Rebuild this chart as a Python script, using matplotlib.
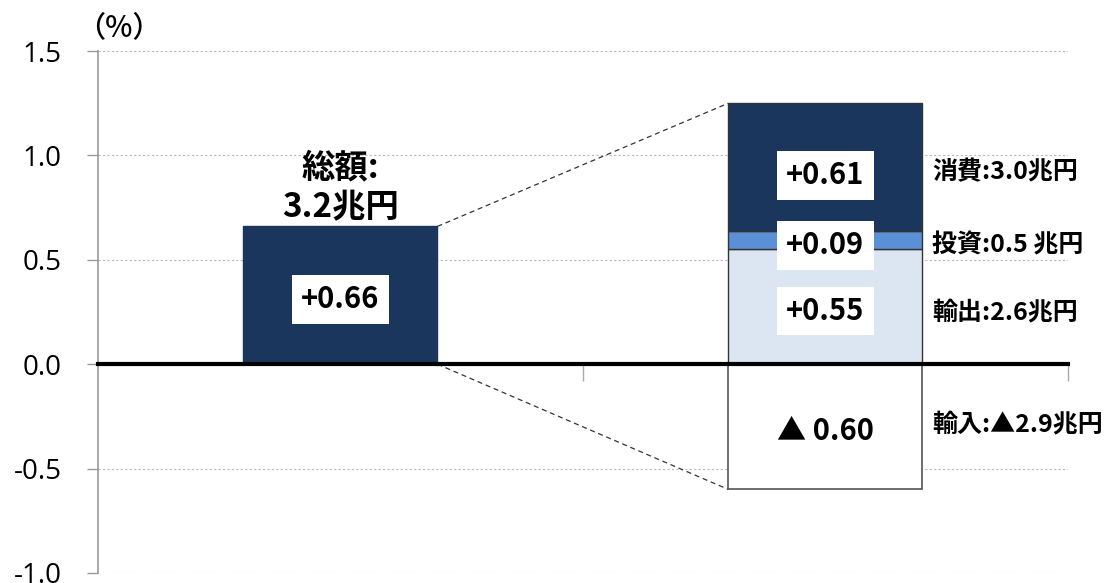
import matplotlib
matplotlib.use("Agg")
import matplotlib.pyplot as plt
import numpy as np

plt.rcParams['font.family'] = ['Noto Sans CJK JP', 'DejaVu Sans']

# ---- data ----
categories = ["総額", "内訳"]
total_value = 0.66
total_label = "総額:\n3.2兆円"
component_names = ["輸出", "投資", "消費"]
component_values = [0.55, 0.09, 0.61]
component_texts = ["+0.55", "+0.09", "+0.61"]
component_notes = ["輸出:2.6兆円", "投資:0.5 兆円", "消費:3.0兆円"]
import_value = -0.60
import_text = "▲ 0.60"
import_note = "輸入:▲2.9兆円"
yticks = [-1.0, -0.5, 0.0, 0.5, 1.0, 1.5]
ytick_labels = ["-1.0", "-0.5", "0.0", "0.5", "1.0", "1.5"]

navy = "#1b365d"
mid_blue = "#5b8fd6"
light_blue = "#dce6f2"

fig = plt.figure(figsize=(11.14, 5.83), dpi=100)
ax = fig.add_axes([0.088, 0.0172, 0.8705, 0.8953])

x = np.arange(len(categories))
width = 0.4

# total bar
ax.bar(x[0], total_value, width, color=navy, edgecolor=navy, zorder=3)

# stacked components
comp_colors = [light_blue, mid_blue, navy]
bottoms = np.concatenate([[0], np.cumsum(component_values)[:-1]])
for v, b, c in zip(component_values, bottoms, comp_colors):
    ax.bar(x[1], v, width, bottom=b, color=c, edgecolor="#333333", linewidth=1.0, zorder=3)
ax.bar(x[1], import_value, width, color="white", edgecolor="#555555", linewidth=1.2, zorder=3)

# axes styling
ax.set_xlim(-0.5, 1.5)
ax.set_ylim(-1.0, 1.5)
ax.set_yticks(yticks)
ax.set_yticklabels(ytick_labels, fontsize=20, family=['Open Sans', 'DejaVu Sans'])
ax.tick_params(axis='y', length=8, color="#999999", width=1, pad=18)
for t in yticks:
    if t != 0:
        ax.axhline(t, color="#b8b8b8", linestyle=(0, (2, 2)), linewidth=0.8, zorder=1)

for s in ["top", "right"]:
    ax.spines[s].set_visible(False)
ax.spines["left"].set_color("#999999")
ax.spines["left"].set_linewidth(1.2)
ax.spines["bottom"].set_position(("data", 0))
ax.spines["bottom"].set_color("black")
ax.spines["bottom"].set_linewidth(3)
ax.spines["bottom"].set_zorder(5)
ax.set_xticks([0.5, 1.5])
ax.set_xticklabels([])
ax.tick_params(axis='x', length=12, color="#aaaaaa", width=1, direction='out')

# connecting dashed lines
x0r = x[0] + width / 2
x1l = x[1] - width / 2
top_stack = float(np.sum(component_values))
ax.plot([x0r, x1l], [total_value, top_stack], color="#333333", linestyle=(0, (4, 3)), linewidth=0.9, zorder=2)
ax.plot([x0r, x1l], [0, import_value], color="#333333", linestyle=(0, (4, 3)), linewidth=0.9, zorder=2)

box = dict(boxstyle="square,pad=0.32", facecolor="white", edgecolor="none")
val_kw = dict(ha="center", va="center", fontsize=21, fontweight="bold", zorder=6, bbox=box)

# total labels
ax.text(x[0], total_value / 2 - 0.02, "+%.2f" % total_value, **val_kw)
ax.text(x[0], total_value + 0.01, total_label, ha="center", va="bottom", fontsize=24,
        fontweight="bold", linespacing=1.25, zorder=6)

# component labels
offsets = [-0.02, -0.025, -0.04]
for v, b, t, off in zip(component_values, bottoms, component_texts, offsets):
    ax.text(x[1], b + v / 2 + off, t, **val_kw)
ax.text(x[1], import_value / 2 - 0.02, import_text, **{**val_kw, "bbox": None})

note_kw = dict(ha="left", va="center", fontsize=18, fontweight="bold", zorder=6)
note_x = x[1] + width / 2 + 0.02
note_y = [0.25, 0.57, 0.92]
for ny, n in zip(note_y, component_notes):
    ax.text(note_x, ny, n, **note_kw)
ax.text(note_x, import_value / 2 + 0.01, import_note, **note_kw)

fig.text(0.068, 0.952, "（%）", fontsize=21, fontweight="medium", ha="left", va="center")

fig.savefig("out.png", dpi=100)
